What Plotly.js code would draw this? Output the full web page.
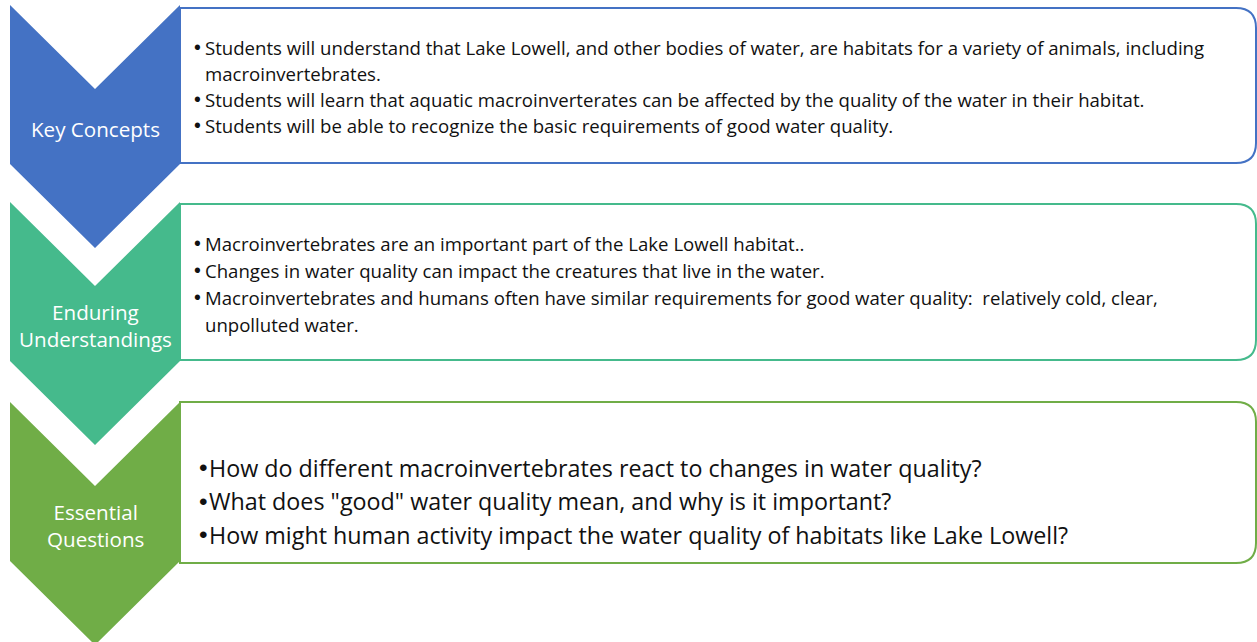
<!DOCTYPE html>
<html>
<head>
<meta charset="utf-8">
<script src="https://cdn.plot.ly/plotly-3.0.1.min.js"></script>
<style>html,body{margin:0;padding:0;background:#fff;}#chart{width:1257px;height:642px;}</style>
</head>
<body>
<div id="chart"></div>
<script>
// ---- content ----
const stageLabels = ["Key Concepts", "Enduring<br>Understandings", "Essential<br>Questions"];
const stageColors = ["#4472C4", "#45BA8C", "#70AD47"];
const keyConcepts = [
  ["Students will understand that Lake Lowell, and other bodies of water, are habitats for a variety of animals, including", "macroinvertebrates."],
  ["Students will learn that aquatic macroinverterates can be affected by the quality of the water in their habitat."],
  ["Students will be able to recognize the basic requirements of good water quality."]
];
const enduringUnderstandings = [
  ["Macroinvertebrates are an important part of the Lake Lowell habitat.."],
  ["Changes in water quality can impact the creatures that live in the water."],
  ["Macroinvertebrates and humans often have similar requirements for good water quality:  relatively cold, clear,", "unpolluted water."]
];
const essentialQuestions = [
  ["How do different macroinvertebrates react to changes in water quality?"],
  ["What does \"good\" water quality mean, and why is it important?"],
  ["How might human activity impact the water quality of habitats like Lake Lowell?"]
];
const stageBullets = [keyConcepts, enduringUnderstandings, essentialQuestions];

// ---- layout geometry ----
const FONT = "'Open Sans', Lato, sans-serif";
const BULLET_FONT = "'Liberation Sans', Arial, sans-serif";
const stages = [
  {top: 5, box: [8, 163], textStart: 47, step: 26, size: 18.6, bulletX: 192, textX: 203},
  {top: 202, box: [204, 360], textStart: 243, step: 27, size: 18.6, bulletX: 192, textX: 203},
  {top: 402, box: [402, 563], textStart: 467.5, step: 33.5, size: 23.3, bulletX: 197, textX: 207}
];
const chevL = 10, chevR = 180, notch = 84, bodyH = 159;
const boxL = 180, boxR = 1256, rad = 20;

const shapes = [];
const annotations = [];
stages.forEach((s, i) => {
  const cx = (chevL + chevR) / 2;
  const t = s.top, b = s.top + bodyH;
  shapes.push({
    type: "path", xref: "x", yref: "y",
    path: `M${chevL},${t} L${cx},${t + notch} L${chevR},${t} L${chevR},${b} L${cx},${b + notch} L${chevL},${b} Z`,
    fillcolor: stageColors[i], line: {width: 0}, layer: "above"
  });
  const [y0, y1] = s.box;
  shapes.push({
    type: "path", xref: "x", yref: "y",
    path: `M${boxL},${y0} L${boxR - rad},${y0} Q${boxR},${y0} ${boxR},${y0 + rad} L${boxR},${y1 - rad} Q${boxR},${y1} ${boxR - rad},${y1} L${boxL},${y1} Z`,
    fillcolor: "#ffffff", line: {color: stageColors[i], width: 2}, layer: "below"
  });
  annotations.push({
    x: cx, y: t + 123.5, xref: "x", yref: "y",
    text: stageLabels[i], showarrow: false, xanchor: "center", yanchor: "middle", align: "center",
    font: {family: FONT, size: 20.6, color: "#ffffff"}
  });
  let y = s.textStart;
  stageBullets[i].forEach(lines => {
    annotations.push({
      x: s.bulletX, y: y, xref: "x", yref: "y", text: "•", showarrow: false,
      xanchor: "left", yanchor: "middle", font: {family: BULLET_FONT, size: s.size * 1.05, color: "#111111"}
    });
    lines.forEach(line => {
      annotations.push({
        x: s.textX, y: y, xref: "x", yref: "y", text: line, showarrow: false,
        xanchor: "left", yanchor: "middle", align: "left",
        font: {family: FONT, size: s.size, color: "#111111"}
      });
      y += s.step;
    });
  });
});

const layout = {
  width: 1257, height: 642,
  margin: {l: 0, r: 0, t: 0, b: 0},
  paper_bgcolor: "#ffffff", plot_bgcolor: "#ffffff",
  xaxis: {range: [0, 1257], visible: false, fixedrange: true},
  yaxis: {range: [642, 0], visible: false, fixedrange: true},
  shapes: shapes, annotations: annotations, showlegend: false
};
Plotly.newPlot("chart", [], layout, {staticPlot: true, displayModeBar: false});
</script>
</body>
</html>
